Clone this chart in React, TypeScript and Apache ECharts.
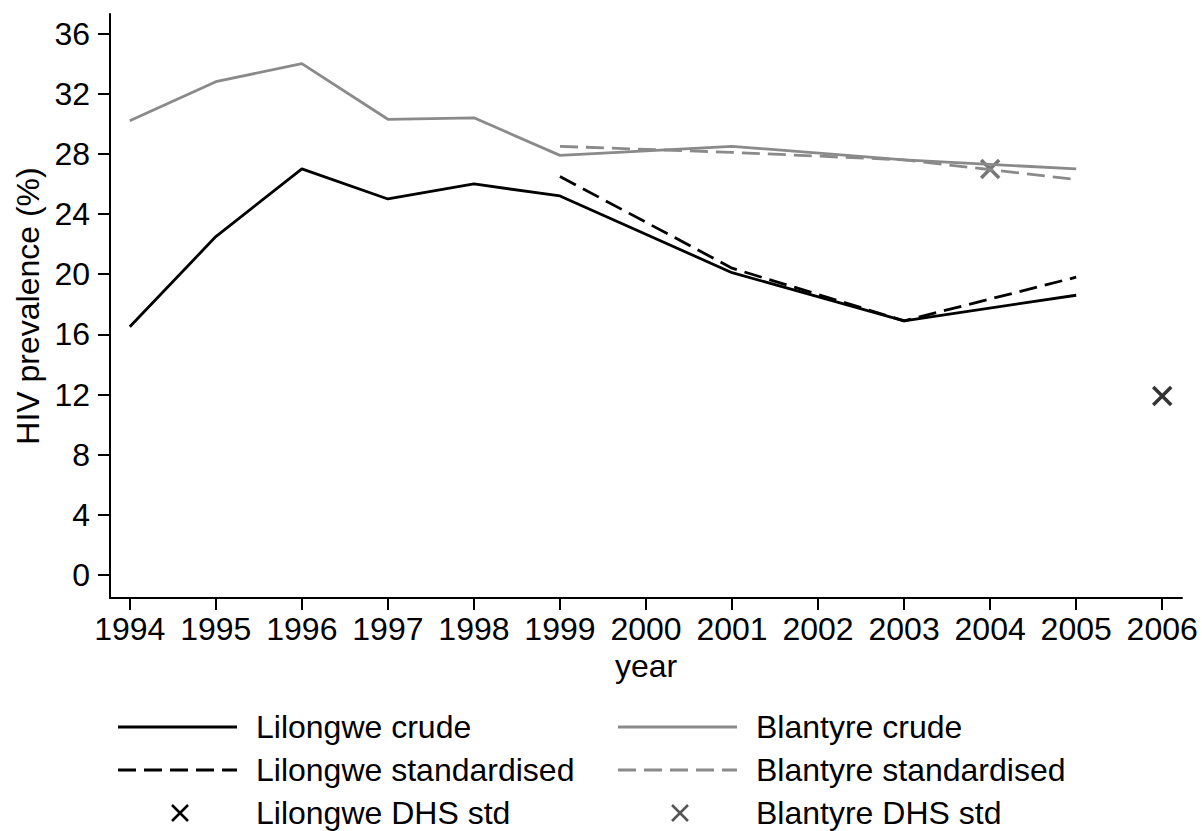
import React, { useEffect, useRef } from "react";
import * as echarts from "echarts";

const years = [1994, 1995, 1996, 1997, 1998, 1999, 2001, 2003, 2005];
const stdYears = [1999, 2001, 2003, 2005];
const lilongweCrude = [16.5, 22.5, 27.0, 25.0, 26.0, 25.2, 20.1, 16.9, 18.6];
const blantyreCrude = [30.2, 32.8, 34.0, 30.3, 30.4, 27.9, 28.5, 27.6, 27.0];
const lilongweStd = [26.5, 20.4, 16.9, 19.8];
const blantyreStd = [28.5, 28.1, 27.6, 26.3];
const lilongweDhs = [[2006, 11.9]];
const blantyreDhs = [[2004, 27.0]];
const xTicks = [1994, 1995, 1996, 1997, 1998, 1999, 2000, 2001, 2002, 2003, 2004, 2005, 2006];
const yTicks = [0, 4, 8, 12, 16, 20, 24, 28, 32, 36];

const FONT = "'Liberation Sans', Arial, sans-serif";
const FS = 32;
const BLACK = "#000000";
const GRAY = "#8a8a8a";
const DARKGRAY = "#555555";
const X_PATH = "path://M0,0L10,10M10,0L0,10";

const pair = (xs: number[], ys: number[]) => xs.map((x, i) => [x, ys[i]]);

export default function App() {
  const ref = useRef<HTMLDivElement>(null);
  useEffect(() => {
    if (!ref.current) return;
    const chart = echarts.init(ref.current, undefined, { renderer: "svg" });

    const legendRows = [727, 770, 813];
    const legendItem = (x0: number, y: number, kind: string, color: string, label: string) => {
      const els: any[] = [];
      if (kind === "solid" || kind === "dash") {
        els.push({
          type: "line",
          shape: { x1: x0, y1: y, x2: x0 + 119, y2: y },
          style: { stroke: color, lineWidth: 2.8, lineDash: kind === "dash" ? [18, 8] : null },
        });
      } else {
        const cx = x0 + 62, s = 8;
        els.push({ type: "line", shape: { x1: cx - s, y1: y - s, x2: cx + s, y2: y + s }, style: { stroke: color, lineWidth: 2.5 } });
        els.push({ type: "line", shape: { x1: cx - s, y1: y + s, x2: cx + s, y2: y - s }, style: { stroke: color, lineWidth: 2.5 } });
      }
      els.push({
        type: "text",
        x: x0 + 138,
        y,
        style: { text: label, font: `${FS}px ${FONT}`, fill: "#000", verticalAlign: "middle", align: "left" },
      });
      return els;
    };

    const graphic = [
      ...legendItem(118, legendRows[0], "solid", BLACK, "Lilongwe crude"),
      ...legendItem(118, legendRows[1], "dash", BLACK, "Lilongwe standardised"),
      ...legendItem(118, legendRows[2], "x", BLACK, "Lilongwe DHS std"),
      ...legendItem(618, legendRows[0], "solid", GRAY, "Blantyre crude"),
      ...legendItem(618, legendRows[1], "dash", GRAY, "Blantyre standardised"),
      ...legendItem(618, legendRows[2], "x", DARKGRAY, "Blantyre DHS std"),
    ];

    chart.setOption({
      animation: false,
      backgroundColor: "#ffffff",
      grid: { left: 110, right: 20, top: 14, bottom: 233, containLabel: false },
      xAxis: {
        type: "value",
        min: 1993.77,
        max: 2006.23,
        name: "year",
        nameLocation: "middle",
        nameGap: 52,
        nameTextStyle: { fontSize: FS, fontFamily: FONT, color: "#000" },
        axisLine: { show: true, onZero: false, lineStyle: { color: "#000", width: 2 } },
        axisTick: { show: true, length: 12, lineStyle: { color: "#000", width: 2 }, customValues: xTicks },
        axisLabel: { fontSize: FS, fontFamily: FONT, color: "#000", margin: 15, customValues: xTicks, formatter: (v: number) => String(v) },
        splitLine: { show: false },
      },
      yAxis: {
        type: "value",
        min: -1.53,
        max: 37.3,
        name: "HIV prevalence (%)",
        nameLocation: "middle",
        nameGap: 66,
        nameTextStyle: { fontSize: FS, fontFamily: FONT, color: "#000" },
        axisLine: { show: true, onZero: false, lineStyle: { color: "#000", width: 2 } },
        axisTick: { show: true, length: 12, lineStyle: { color: "#000", width: 2 }, customValues: yTicks },
        axisLabel: { fontSize: FS, fontFamily: FONT, color: "#000", margin: 20, customValues: yTicks },
        splitLine: { show: false },
      },
      series: [
        {
          name: "Blantyre crude",
          type: "line",
          data: pair(years, blantyreCrude),
          showSymbol: false,
          lineStyle: { color: GRAY, width: 2.8 },
        },
        {
          name: "Blantyre standardised",
          type: "line",
          data: pair(stdYears, blantyreStd),
          showSymbol: false,
          lineStyle: { color: GRAY, width: 2.8, type: [18, 8] },
        },
        {
          name: "Lilongwe crude",
          type: "line",
          data: pair(years, lilongweCrude),
          showSymbol: false,
          lineStyle: { color: BLACK, width: 2.8 },
        },
        {
          name: "Lilongwe standardised",
          type: "line",
          data: pair(stdYears, lilongweStd),
          showSymbol: false,
          lineStyle: { color: BLACK, width: 2.8, type: [18, 8] },
        },
        {
          name: "Lilongwe DHS std",
          type: "scatter",
          data: lilongweDhs,
          symbol: X_PATH,
          symbolSize: 18,
          itemStyle: { color: "none", borderColor: BLACK, borderWidth: 3.5 },
        },
        {
          name: "Blantyre DHS std",
          type: "scatter",
          data: blantyreDhs,
          symbol: X_PATH,
          symbolSize: 18,
          itemStyle: { color: "none", borderColor: DARKGRAY, borderWidth: 3.5 },
        },
      ],
      graphic,
    });
    return () => chart.dispose();
  }, []);
  return <div ref={ref} style={{ position: "fixed", left: 0, top: 0, width: 1202, height: 831, background: "#fff" }} />;
}
